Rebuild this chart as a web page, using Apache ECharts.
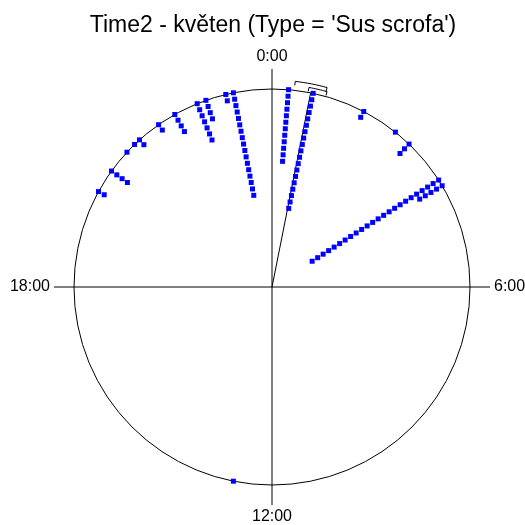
<!DOCTYPE html>
<html>
<head>
<meta charset="utf-8">
<script src="https://cdn.jsdelivr.net/npm/echarts@6/dist/echarts.min.js"></script>
<style>html,body{margin:0;padding:0;background:#fff}#c{width:525px;height:525px}</style>
</head>
<body>
<div id="c"></div>
<script>
// Hour of day (0-24) of each stacked bin and number of observations in it
const stackHours  = [0.32, 0.80, 1.84, 2.57, 2.92, 3.82, 3.95, 12.75, 19.92, 20.39, 20.86, 21.07, 21.20, 21.67, 22.04, 22.52, 22.70, 23.10, 23.25];
const stackCounts = [12,   19,   2,    1,    3,    24,   5,    1,     2,     4,     1,     1,     2,     2,     4,     7,     4,     2,     17];
// Mean direction (hours) and confidence interval limits (hours)
const meanHour = 0.75;
const ciOuter = [0.43, 1.03];
const ciInner = [0.70, 1.05];
const tickHours = [0, 6, 12, 18];
const tickLabels = ['0:00', '6:00', '12:00', '18:00'];
const titleText = "Time2 - květen (Type = 'Sus scrofa')";

const sep = 0.033;
const points = [];
stackHours.forEach((h, k) => {
  for (let i = 0; i < stackCounts[k]; i++) points.push([1 - i * sep, h]);
});
function bracket(lim, r, r0) {
  const d = [[r0, lim[0]]];
  const n = 8;
  for (let i = 0; i <= n; i++) d.push([r, lim[0] + (lim[1] - lim[0]) * i / n]);
  d.push([r0, lim[1]]);
  return d;
}
const brackets = [bracket(ciOuter, 1.045, 1.025), bracket(ciInner, 1.025, 1.005)];

const chart = echarts.init(document.getElementById('c'));
chart.setOption({
  animation: false,
  backgroundColor: '#fff',
  title: {
    text: titleText, left: 273, top: 14, textAlign: 'center', padding: 0,
    textStyle: {fontFamily: 'Liberation Sans', fontSize: 23, fontWeight: 'normal', color: '#000'}
  },
  polar: {center: [272, 287], radius: 198},
  angleAxis: {
    type: 'value', min: 0, max: 24, interval: 6, startAngle: 90, clockwise: true,
    axisLine: {show: true, lineStyle: {color: '#000', width: 1}},
    axisTick: {show: true, inside: false, length: 20, lineStyle: {color: '#000', width: 1}},
    splitLine: {show: true, lineStyle: {color: '#000', width: 1, type: 'solid'}},
    axisLabel: {
      show: true, margin: 24, color: '#000', fontFamily: 'Liberation Sans', fontSize: 16,
      formatter: v => { const i = tickHours.indexOf(v); return i >= 0 ? tickLabels[i] : ''; }
    }
  },
  radiusAxis: {
    type: 'value', min: 0, max: 1,
    axisLine: {show: false}, axisTick: {show: false}, axisLabel: {show: false}, splitLine: {show: false}
  },
  series: [
    {
      type: 'line', coordinateSystem: 'polar', data: [[0, meanHour], [1, meanHour]],
      symbol: 'none', lineStyle: {color: '#000', width: 1}, clip: false, z: 3
    },
    {
      type: 'custom', coordinateSystem: 'polar', data: [[0], [1]], z: 3, clip: false,
      renderItem: (params, api) => {
        const pts = brackets[params.dataIndex].map(([r, h]) => {
          const c = api.coord([0, h]);
          const p = api.coord([1, h]);
          return [c[0] + (p[0] - c[0]) * r, c[1] + (p[1] - c[1]) * r];
        });
        return {type: 'polyline', shape: {points: pts}, style: {stroke: '#000', fill: null, lineWidth: 1}};
      }
    },
    {
      type: 'scatter', coordinateSystem: 'polar', data: points,
      symbol: 'rect', symbolSize: 5, itemStyle: {color: '#0000ff', opacity: 1}, z: 4
    }
  ]
});
</script>
</body>
</html>
